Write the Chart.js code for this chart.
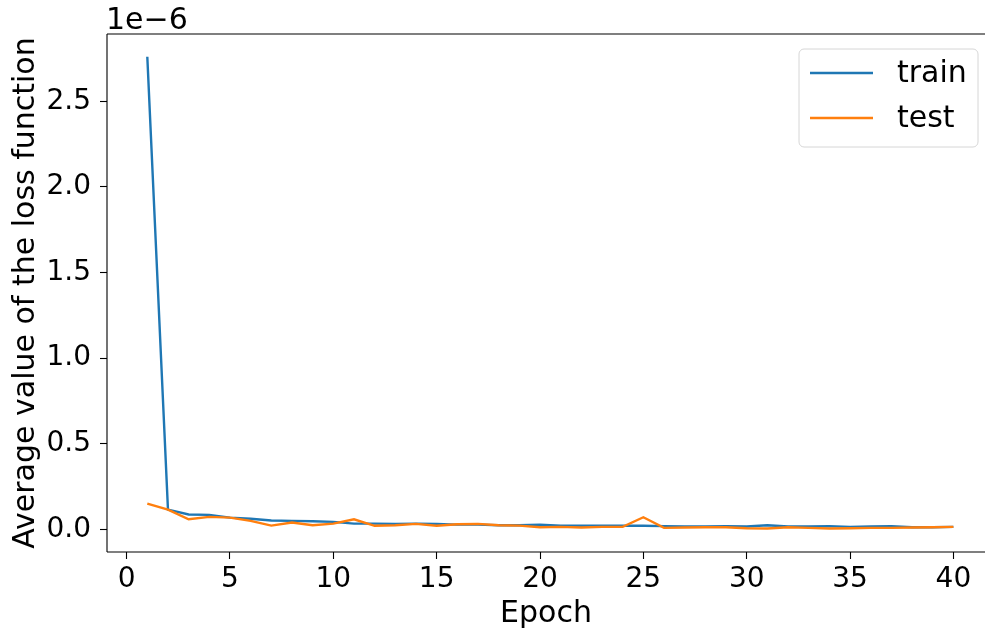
<!DOCTYPE html>
<html>
<head>
<meta charset="utf-8">
<script src="https://cdn.jsdelivr.net/npm/chart.js@4.4.1/dist/chart.umd.min.js"></script>
<style>
  html, body { margin: 0; padding: 0; background: #fff; }
  #wrap { width: 985px; height: 633px; }
</style>
</head>
<body>
<div id="wrap"><canvas id="chart" width="985" height="633"></canvas></div>
<script>
// values are in units of 1e-6 (matplotlib offset text on the y axis)
const epochs = Array.from({ length: 40 }, (_, i) => i + 1);
const trainLoss = [2.76, 0.115, 0.086, 0.084, 0.068, 0.061, 0.051, 0.049, 0.047, 0.043,
  0.033, 0.033, 0.031, 0.033, 0.031, 0.027, 0.027, 0.023, 0.023, 0.027,
  0.021, 0.020, 0.020, 0.020, 0.020, 0.018, 0.016, 0.016, 0.018, 0.016,
  0.023, 0.016, 0.016, 0.018, 0.014, 0.016, 0.018, 0.012, 0.012, 0.014];
const testLoss = [0.150, 0.115, 0.058, 0.072, 0.068, 0.049, 0.021, 0.039, 0.023, 0.033,
  0.058, 0.020, 0.023, 0.031, 0.020, 0.029, 0.031, 0.023, 0.021, 0.012,
  0.014, 0.010, 0.014, 0.014, 0.070, 0.008, 0.010, 0.012, 0.012, 0.006,
  0.004, 0.012, 0.008, 0.004, 0.006, 0.008, 0.008, 0.010, 0.012, 0.014];
const xTicks = [0, 5, 10, 15, 20, 25, 30, 35, 40];
const yTicks = [0.0, 0.5, 1.0, 1.5, 2.0, 2.5];
const seriesNames = ['train', 'test'];
const seriesColors = ['#1f77b4', '#ff7f0e'];
const offsetText = '1e\u22126';

const FONT = 'DejaVu Sans';
const FS = 28;   // tick labels
const FT = 30;   // titles, legend, offset text
const LW = 2.4;

// spines, offset text and the boxed legend (matplotlib look)
const frame = {
  id: 'frame',
  afterDraw(chart) {
    const { ctx, chartArea: a } = chart;
    ctx.save();
    ctx.strokeStyle = '#000';
    ctx.lineWidth = 1.1;
    ctx.beginPath();
    ctx.moveTo(a.left, a.top); ctx.lineTo(a.right, a.top);
    ctx.moveTo(a.left, a.top); ctx.lineTo(a.left, a.bottom);
    ctx.moveTo(a.left, a.bottom); ctx.lineTo(a.right, a.bottom);
    ctx.stroke();

    ctx.fillStyle = '#000';
    ctx.font = FT + 'px "' + FONT + '"';
    ctx.textBaseline = 'alphabetic';
    ctx.textAlign = 'left';
    ctx.fillText(offsetText, 106, 29);

    const bx = 799, by = 49, bw = 179, bh = 98, r = 5;
    ctx.beginPath();
    ctx.moveTo(bx + r, by);
    ctx.arcTo(bx + bw, by, bx + bw, by + bh, r);
    ctx.arcTo(bx + bw, by + bh, bx, by + bh, r);
    ctx.arcTo(bx, by + bh, bx, by, r);
    ctx.arcTo(bx, by, bx + bw, by, r);
    ctx.closePath();
    ctx.fillStyle = 'rgba(255,255,255,0.8)';
    ctx.fill();
    ctx.strokeStyle = '#d6d6d6';
    ctx.lineWidth = 1;
    ctx.stroke();
    chart.data.datasets.forEach((ds, i) => {
      const y = 73 + i * 45;
      ctx.strokeStyle = ds.borderColor;
      ctx.lineWidth = LW;
      ctx.beginPath();
      ctx.moveTo(810, y); ctx.lineTo(873, y);
      ctx.stroke();
      ctx.fillStyle = '#000';
      ctx.textBaseline = 'middle';
      ctx.fillText(ds.label, 897, y + 1);
    });
    ctx.restore();
  }
};

new Chart(document.getElementById('chart'), {
  type: 'line',
  data: {
    datasets: [
      { label: seriesNames[0], data: epochs.map((e, i) => ({ x: e, y: trainLoss[i] })),
        borderColor: seriesColors[0], borderWidth: LW, pointRadius: 0, tension: 0, order: 1 },
      { label: seriesNames[1], data: epochs.map((e, i) => ({ x: e, y: testLoss[i] })),
        borderColor: seriesColors[1], borderWidth: LW, pointRadius: 0, tension: 0, order: 0 }
    ]
  },
  options: {
    responsive: false,
    animation: false,
    layout: { padding: { top: 34, left: 0, right: 0, bottom: 0 } },
    plugins: { legend: { display: false }, tooltip: { enabled: false } },
    scales: {
      x: {
        type: 'linear',
        min: -0.95,
        max: 41.53,
        afterBuildTicks: (s) => { s.ticks = xTicks.map(v => ({ value: v })); },
        afterFit: (s) => { s.height = 81; },
        ticks: { color: '#000', font: { family: FONT, size: FS }, padding: 4,
          callback: (v) => String(v), maxRotation: 0, autoSkip: false },
        grid: { drawOnChartArea: false, drawTicks: true, tickLength: 7, tickColor: '#000', tickWidth: 1.1 },
        border: { display: false },
        title: { display: true, text: 'Epoch', color: '#000', font: { family: FONT, size: FT }, padding: { top: 0, bottom: 1 } }
      },
      y: {
        type: 'linear',
        min: -0.133,
        max: 2.893,
        afterBuildTicks: (s) => { s.ticks = yTicks.map(v => ({ value: v })); },
        afterFit: (s) => { s.width = 107; },
        ticks: { color: '#000', font: { family: FONT, size: FS }, padding: 9,
          callback: (v) => v.toFixed(1), autoSkip: false },
        grid: { drawOnChartArea: false, drawTicks: true, tickLength: 7, tickColor: '#000', tickWidth: 1.1 },
        border: { display: false },
        title: { display: true, text: 'Average value of the loss function', color: '#000',
          font: { family: FONT, size: FT }, padding: { top: 8, bottom: 0 } }
      }
    }
  },
  plugins: [frame]
});
</script>
</body>
</html>
